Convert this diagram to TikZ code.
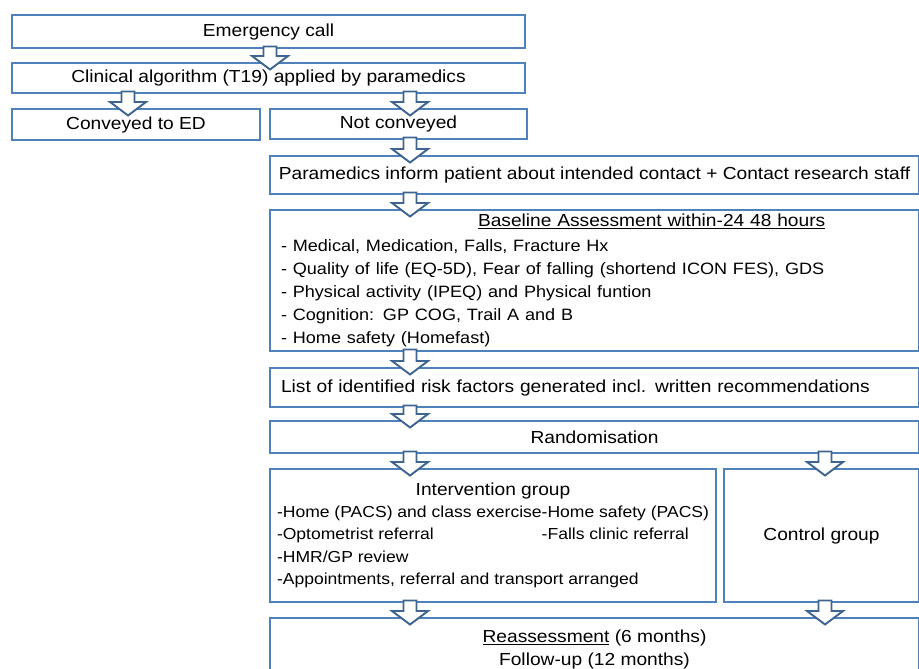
\documentclass[tikz,border=0pt]{standalone}
\usepackage{fontspec}
\setmainfont{Liberation Sans}[FakeStretch=1.1]
\usetikzlibrary{calc}

\definecolor{boxblue}{RGB}{79,129,189}
\definecolor{arrowblue}{RGB}{62,100,146}

% hollow block arrow: #1 gives the x, from #2 down to #3
\newcommand\blockdown[3]{%
  \draw[flowarrow] let \p1=(#1 |- #2.south), \p2=(#1 |- #3.north) in
    (\x1-6.5bp,\y1+2.5bp) -- (\x1+6.5bp,\y1+2.5bp) -- (\x1+6.5bp,\y2+6bp)
    -- (\x1+18bp,\y2+6bp) -- (\x1,\y2-7.5bp) -- (\x1-18bp,\y2+6bp)
    -- (\x1-6.5bp,\y2+6bp) -- cycle;}
\newcommand\itemfont{\fontsize{16.5}{23}\selectfont}

\begin{document}
\begin{tikzpicture}[x=1bp,y=-1bp,
    box/.style={draw=boxblue,line width=2bp,fill=white,anchor=north west,
      inner sep=0pt,align=center,font=\fontsize{17.5}{23}\selectfont},
    leftbox/.style={box,align=left,inner xsep=11bp},
    flowarrow/.style={draw=arrowblue,line width=1.9bp,fill=white,line join=miter}]
    \useasboundingbox(0,0)rectangle(919,669);
    \clip(0,0)rectangle(919,669);

    \coordinate(topx)at(270,0);
    \coordinate(edx)at(128,0);
    \coordinate(spine)at(410,0);
    \coordinate(ctrlx)at(825,0);

    \node[box,minimum width=513bp,minimum height=33bp](call)at(11,14){Emergency call};
    \node[box,minimum width=513bp,minimum height=30bp](algo)at(11,62){Clinical algorithm (T19) applied by paramedics};
    \node[box,minimum width=248bp,minimum height=31bp](convey)at(11,108){Conveyed to ED};
    \node[box,minimum width=257bp,minimum height=30bp](noconvey)at(269,108){Not conveyed};
    \node[box,minimum width=649bp,minimum height=38bp](inform)at(269,155){Paramedics inform patient about intended contact + Contact research staff};
    \node[leftbox,text width=627bp,minimum height=141bp](baseline)at(269,209){%
        \hspace*{197bp}\underline{Baseline Assessment within-24 48 hours}\\[2bp]
        \itemfont - Medical, Medication, Falls, Fracture Hx\\
        - Quality of life (EQ-5D), Fear of falling (shortend ICON FES), GDS\\
        - Physical activity (IPEQ) and Physical funtion\\
        - Cognition: GP COG, Trail A and B\\
        - Home safety (Homefast)};
    \node[leftbox,text width=627bp,minimum height=39bp](risks)at(269,367){List of identified risk factors generated incl. written recommendations};
    \node[box,minimum width=649bp,minimum height=32bp](random)at(269,420){Randomisation};
    \node[box,minimum width=446bp,minimum height=133bp](interv)at(269,468){%
        \fontsize{16}{22.5}\selectfont
        \begin{tabular}{@{}l@{}l@{}}
        \multicolumn{2}{c}{\fontsize{17.5}{22.5}\selectfont Intervention group}\\
        -Home (PACS) and class exercise&-Home safety (PACS)\\
        -Optometrist referral&-Falls clinic referral\\
        -HMR/GP review&\\
        \multicolumn{2}{@{}l@{}}{-Appointments, referral and transport arranged}
        \end{tabular}};
    \node[box,minimum width=195bp,minimum height=133bp](control)at(723,468){Control group};
    \node[box,minimum width=649bp,minimum height=63bp](reassess)at(269,617){\underline{Reassessment} (6 months)\\Follow-up (12 months)};

    \blockdown{topx}{call}{algo}
    \blockdown{edx}{algo}{convey}
    \blockdown{spine}{algo}{noconvey}
    \blockdown{spine}{noconvey}{inform}
    \blockdown{spine}{inform}{baseline}
    \blockdown{spine}{baseline}{risks}
    \blockdown{spine}{risks}{random}
    \blockdown{spine}{random}{interv}
    \blockdown{ctrlx}{random}{control}
    \blockdown{spine}{interv}{reassess}
    \blockdown{ctrlx}{control}{reassess}
\end{tikzpicture}
\end{document}
